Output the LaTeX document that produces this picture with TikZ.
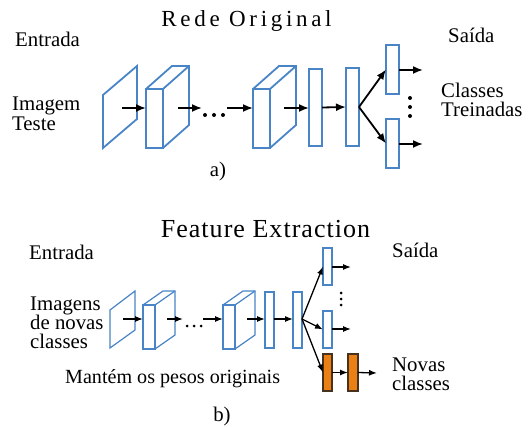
\documentclass[tikz,border=0pt]{standalone}
\usepackage{fontspec}
\setmainfont{Liberation Serif}
\usetikzlibrary{arrows.meta}
\definecolor{cnnblue}{RGB}{72,132,198}
\definecolor{cnnorange}{RGB}{234,128,20}
\definecolor{orangeedge}{RGB}{70,50,30}
\begin{document}
\begin{tikzpicture}[x=1pt,y=-1pt,
  font=\fontsize{20.8}{20}\selectfont,
  bl/.style={draw=cnnblue, line width=1.8pt, line join=miter},
  blb/.style={draw=cnnblue, line width=1.2pt, line join=miter},
  lay/.style={bl, fill=white, rectangle, inner sep=0pt, outer sep=0pt},
  layb/.style={blb, fill=white, rectangle, inner sep=0pt, outer sep=0pt},
  orn/.style={draw=orangeedge, fill=cnnorange, line width=1.2pt, rectangle, inner sep=0pt, outer sep=0pt},
  arr/.style={-{Latex[length=10pt,width=8pt]}, line width=1.8pt},
  arrb/.style={-{Latex[length=8pt,width=6pt]}, line width=1.3pt},
  txt/.style={inner sep=0pt, anchor=base west},
  mtxt/.style={inner sep=0pt, anchor=base west, align=left},
  dot/.style={circle, fill=black, inner sep=0pt, minimum size=4pt},
  dotb/.style={circle, fill=black, inner sep=0pt, minimum size=3pt}]
\useasboundingbox (0,0) rectangle (532,427);

% ---------------- a) Rede Original ----------------
\node[inner sep=0pt, anchor=base] (titA) at (246.5,27)
  {\fontsize{23}{23}\selectfont\addfontfeature{LetterSpace=16}Rede Original};
\node[txt] (entA) at (15,47) {Entrada};
\node[mtxt, font=\fontsize{20.8}{20}\selectfont] (imgA) at (12,131) {Imagem\\Teste};
\node[txt] (saiA) at (448,43) {Saída};
\node[mtxt, font=\fontsize{20.8}{19}\selectfont] (clsA) at (441,117) {Classes\\Treinadas};
\node[inner sep=0pt, anchor=base] (labA) at (218,177) {a)};

% input plane
\coordinate (pA1) at (103,95);
\coordinate (pA2) at (137,66);
\coordinate (pA3) at (137,119);
\coordinate (pA4) at (103,148);
\draw[bl] (pA1) -- (pA2) -- (pA3) -- (pA4) -- cycle;
\coordinate (pAc) at (122,108);

% box 1
\node[lay, minimum width=17pt, minimum height=59pt] (tb1) at (154.5,118.5) {};
\draw[bl] (tb1.north west) -- ++(26,-23) -- ++(17,0) -- ++(0,59) -- (tb1.south east);
\draw[bl] (tb1.north east) -- ++(26,-23);
\coordinate (tb1o) at (178,108);
% dots
\node[dot] (tdA1) at (205,115) {};
\node[dot] (tdA2) at (214,115) {};
\node[dot] (tdA3) at (223,115) {};
\coordinate (tdin) at (202,108);
\coordinate (tdout) at (227,108);
% box 2
\node[lay, minimum width=17pt, minimum height=59pt] (tb2) at (261.5,118.5) {};
\draw[bl] (tb2.north west) -- ++(26,-23) -- ++(17,0) -- ++(0,59) -- (tb2.south east);
\draw[bl] (tb2.north east) -- ++(26,-23);
\coordinate (tb2o) at (284,108);
% fully connected
\node[lay, minimum width=13pt, minimum height=77pt] (tr1) at (315.5,107.5) {};
\node[lay, minimum width=13pt, minimum height=78pt] (tr2) at (352.5,107) {};
\node[lay, minimum width=13pt, minimum height=49pt] (toA) at (392.5,69.5) {};
\node[lay, minimum width=13pt, minimum height=49pt] (tbA) at (392.5,143.5) {};
\coordinate (toAe) at (423,70);
\coordinate (tbAe) at (423,144);
\node[dot] (vdA1) at (410,98) {};
\node[dot] (vdA2) at (410,107) {};
\node[dot] (vdA3) at (410,116) {};

\draw[arr] (pAc) -- (pAc -| tb1.west);
\draw[arr] (tb1o) -- (tdin);
\draw[arr] (tdout) -- (tdout -| tb2.west);
\draw[arr] (tb2o) -- (tb2o -| tr1.west);
\draw[arr] (tr1.east) -- (tr2.west);
\draw[arr] (tr2.east) -- (toA.west);
\draw[arr] (tr2.east) -- (tbA.west);
\draw[arr] (toA.east |- toAe) -- (toAe);
\draw[arr] (tbA.east |- tbAe) -- (tbAe);

% ---------------- b) Feature Extraction ----------------
\node[inner sep=0pt, anchor=base] (titB) at (265.5,238)
  {\fontsize{26}{26}\selectfont\addfontfeature{LetterSpace=4}Feature Extraction};
\node[txt] (entB) at (29,260) {Entrada};
\node[mtxt, font=\fontsize{20.8}{19}\selectfont] (imgB) at (30,348) {Imagens\\de novas\\classes};
\node[txt, font=\fontsize{20.1}{20}\selectfont] (mant) at (65,383) {Mantém os pesos originais};
\node[txt] (saiB) at (392,258) {Saída};
\node[mtxt, font=\fontsize{20.8}{19}\selectfont] (novB) at (392,390) {Novas\\classes};
\node[inner sep=0pt, anchor=base] (labB) at (222,421) {b)};

% input plane
\coordinate (pB1) at (110,310);
\coordinate (pB2) at (135,291);
\coordinate (pB3) at (135,330);
\coordinate (pB4) at (110,348);
\draw[blb] (pB1) -- (pB2) -- (pB3) -- (pB4) -- cycle;
\coordinate (pBc) at (123,319);
% box 1
\node[layb, minimum width=12pt, minimum height=44pt] (bb1) at (149,327) {};
\draw[blb] (bb1.north west) -- ++(20,-14) -- ++(12,0) -- ++(0,44) -- (bb1.south east);
\draw[blb] (bb1.north east) -- ++(20,-14);
\coordinate (bb1o) at (167,319);
\node[dotb] (bdB1) at (187,326) {};
\node[dotb] (bdB2) at (194,326) {};
\node[dotb] (bdB3) at (201,326) {};
\coordinate (bdin) at (183,319);
\coordinate (bdout) at (203,319);
% box 2
\node[layb, minimum width=12pt, minimum height=44pt] (bb2) at (229,327) {};
\draw[blb] (bb2.north west) -- ++(20,-14) -- ++(12,0) -- ++(0,44) -- (bb2.south east);
\draw[blb] (bb2.north east) -- ++(20,-14);
\coordinate (bb2o) at (247,319);
% fully connected
\node[layb, minimum width=9pt, minimum height=56pt] (br1) at (269.5,320) {};
\node[layb, minimum width=9pt, minimum height=56pt] (br2) at (297.5,320) {};
\node[layb, minimum width=9pt, minimum height=37pt] (boB) at (327.5,266.5) {};
\node[layb, minimum width=9pt, minimum height=37pt] (bmB) at (327.5,329.5) {};
\node[orn, minimum width=9pt, minimum height=37pt] (or1) at (327.5,372.5) {};
\node[orn, minimum width=10pt, minimum height=37pt] (or2) at (353,372.5) {};
\coordinate (brc) at (302,319);
\coordinate (boBe) at (351,267);
\coordinate (bmBe) at (351,329);
\coordinate (or2e) at (377,373);
\node[dotb] (vdB1) at (341,293) {};
\node[dotb] (vdB2) at (341,299) {};
\node[dotb] (vdB3) at (341,305) {};

\draw[arrb] (pBc) -- (pBc -| bb1.west);
\draw[arrb] (bb1o) -- (bdin);
\draw[arrb] (bdout) -- (bdout -| bb2.west);
\draw[arrb] (bb2o) -- (bb2o -| br1.west);
\draw[arrb] (br1.east |- brc) -- (brc -| br2.west);
\draw[arrb] (brc) -- (boB.west);
\draw[arrb] (brc) -- (bmB.west);
\draw[arrb] (brc) -- (or1.west);
\draw[arrb] (boB.east |- boBe) -- (boBe);
\draw[arrb] (bmB.east |- bmBe) -- (bmBe);
\draw[arrb] (or1.east) -- (or2.west);
\draw[arrb] (or2.east) -- (or2e);
\end{tikzpicture}
\end{document}
